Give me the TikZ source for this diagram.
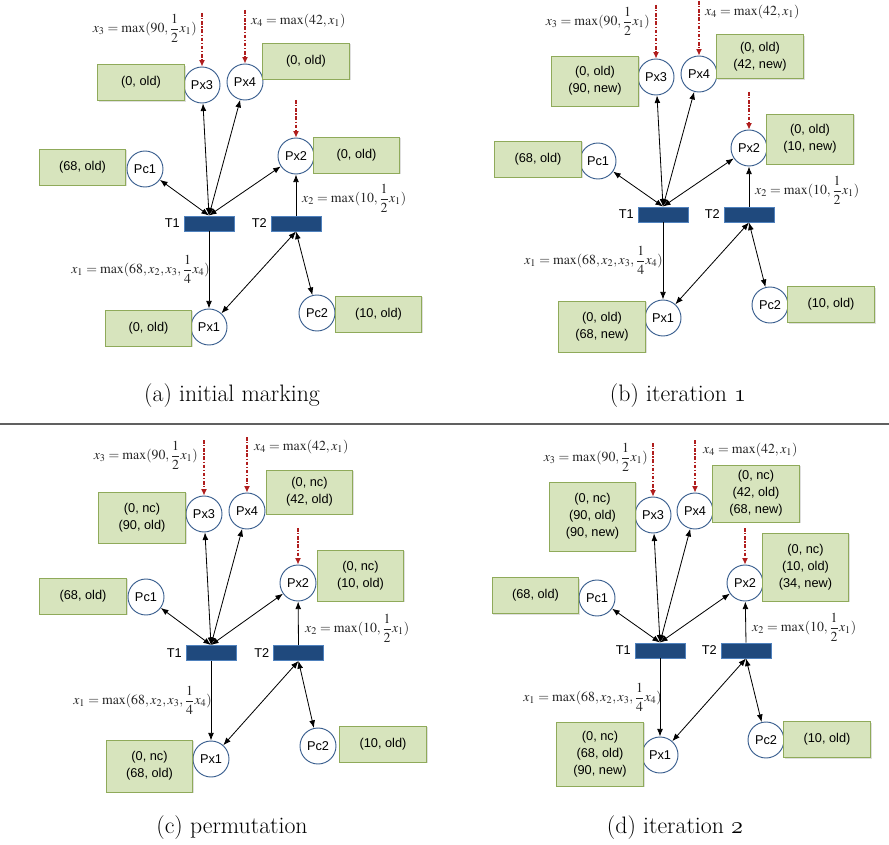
\documentclass[tikz,border=0pt]{standalone}
\usepackage{amsmath}
\usepackage{mathptmx}
\usepackage{fontspec}
\newfontfamily\labfont{Liberation Sans}
\usetikzlibrary{arrows.meta,shadows}
\definecolor{boxfill}{HTML}{D7E4BD}
\definecolor{boxline}{HTML}{8FAA5A}
\definecolor{placeline}{HTML}{3A5F8F}
\definecolor{transfill}{HTML}{1F497D}
\definecolor{transline}{HTML}{4F81BD}
\definecolor{redarc}{HTML}{B01E1E}
\definecolor{sepline}{HTML}{606060}
\tikzset{
  place/.style={circle, draw=placeline, fill=white, line width=0.8pt, minimum size=1.08cm, inner sep=0pt, font=\labfont\fontsize{10.9}{13}\selectfont},
  tokbox/.style={rectangle, draw=boxline, fill=boxfill, line width=0.8pt, minimum width=2.6cm, minimum height=#1*0.03cm, inner sep=0pt, align=center, font=\labfont\fontsize{10.9}{14.5}\selectfont, drop shadow={shadow xshift=1pt, shadow yshift=-1pt, opacity=0.25}},
  tokbox/.default=36,
  trans/.style={rectangle, draw=transline, fill=transfill, line width=0.8pt, minimum width=1.5cm, minimum height=0.45cm, inner sep=0pt},
  tlabel/.style={font=\labfont\fontsize{10.9}{13}\selectfont, inner sep=0pt, anchor=east},
  eqlabel/.style={font=\fontsize{11.8}{14}\selectfont, inner sep=0pt, text=black!85},
  arc/.style={line width=0.7pt, >={Latex[length=6.5pt,width=5pt]}},
  trigarc/.style={draw=redarc, line width=0.9pt, dash pattern=on 3pt off 1.5pt on 1pt off 1.5pt, -{Latex[length=5.5pt,width=5pt]}},
  captext/.style={font=\fontfamily{lmr}\fontsize{20.3}{24}\selectfont, inner sep=0pt, anchor=base}
}
\newcommand\petriarcs[1]{%
  \draw[arc,<->] (#1T1.north) -- (#1Pc1);
  \draw[arc,<->] (#1T1.north) -- (#1Px3);
  \draw[arc,<->] (#1T1.north) -- (#1Px4);
  \draw[arc,<->] (#1T1.north) -- (#1Px2);
  \draw[arc,->] (#1T1.south) -- (#1Px1);
  \draw[arc,->] (#1T2.north) -- (#1Px2);
  \draw[arc,<->] (#1T2.south) -- (#1Px1);
  \draw[arc,<->] (#1T2.south) -- (#1Pc2);
  \draw[trigarc] (#1R3) -- (#1Px3);
  \draw[trigarc] (#1R4) -- (#1Px4);
  \draw[trigarc] (#1R2) -- (#1Px2);
  \node[tlabel] (#1T1l) at ([xshift=-3pt]#1T1.west) {T1};
  \node[tlabel] (#1T2l) at ([xshift=-3pt]#1T2.west) {T2};
}
\newcommand\oldnum[1]{{\usefont{OML}{cmm}{m}{it}\fontsize{20.3}{24}\selectfont #1}}
\begin{document}
\begin{tikzpicture}[x=0.03cm,y=-0.03cm]
\fill[white] (0,0) rectangle (889,845);
\useasboundingbox (0,0) rectangle (889,845);
% separator
\coordinate (sepL) at (0,424);
\coordinate (sepR) at (889,424);
\draw[sepline, line width=1.2pt] (sepL) -- (sepR);

% ---------------- panel a
\node[place] (aPx3) at (202,85) {Px3};
\node[place] (aPx4) at (245,82) {Px4};
\node[place] (aPx2) at (296,156) {Px2};
\node[place] (aPc1) at (145,169) {Pc1};
\node[place] (aPx1) at (209,327) {Px1};
\node[place] (aPc2) at (317,313) {Pc2};
\node[trans] (aT1) at (209,223.5) {};
\node[trans] (aT2) at (296,223.5) {};
\node[tokbox] (aB3) at (141,82.5) {(0, old)};
\node[tokbox] (aB4) at (306,61) {(0, old)};
\node[tokbox] (aB2) at (356.5,155) {(0, old)};
\node[tokbox] (aBc1) at (82.5,167) {(68, old)};
\node[tokbox] (aB1) at (148.5,328) {(0, old)};
\node[tokbox] (aBc2) at (378.5,314) {(10, old)};
\node[eqlabel, anchor=east] (aE3) at (197,28) {$x_3=\max(90,\dfrac{1}{2}x_1)$};
\node[eqlabel, anchor=west] (aE4) at (251,21) {$x_4=\max(42,x_1)$};
\node[eqlabel, anchor=east] (aE1) at (210,269) {$x_1=\max(68,x_2,x_3,\dfrac{1}{4}x_4)$};
\node[eqlabel, anchor=west] (aE2) at (302,198) {$x_2=\max(10,\dfrac{1}{2}x_1)$};
\coordinate (aR3) at (202,13);
\coordinate (aR4) at (245,10);
\coordinate (aR2) at (296,100);
\petriarcs{a}
\node[captext] (capa) at (232,401) {(a) initial marking};

% ---------------- panel b
\node[place] (bPx3) at (656,77) {Px3};
\node[place] (bPx4) at (699,74) {Px4};
\node[place] (bPx2) at (749,148) {Px2};
\node[place] (bPc1) at (598,161) {Pc1};
\node[place] (bPx1) at (663,318) {Px1};
\node[place] (bPc2) at (770,305) {Pc2};
\node[trans] (bT1) at (663,214.5) {};
\node[trans] (bT2) at (749,214.5) {};
\node[tokbox=50] (bB3) at (595,81) {(0, old)\\(90, new)};
\node[tokbox=44] (bB4) at (760,56.5) {(0, old)\\(42, new)};
\node[tokbox=50] (bB2) at (810,139) {(0, old)\\(10, new)};
\node[tokbox] (bBc1) at (538,159) {(68, old)};
\node[tokbox=51] (bB1) at (602,326.5) {(0, old)\\(68, new)};
\node[tokbox] (bBc2) at (831,304.5) {(10, old)};
\node[eqlabel, anchor=east] (bE3) at (650,21) {$x_3=\max(90,\dfrac{1}{2}x_1)$};
\node[eqlabel, anchor=west] (bE4) at (705,12) {$x_4=\max(42,x_1)$};
\node[eqlabel, anchor=east] (bE1) at (663,260) {$x_1=\max(68,x_2,x_3,\dfrac{1}{4}x_4)$};
\node[eqlabel, anchor=west] (bE2) at (755,190) {$x_2=\max(10,\dfrac{1}{2}x_1)$};
\coordinate (bR3) at (656,5);
\coordinate (bR4) at (699,1);
\coordinate (bR2) at (749,92);
\petriarcs{b}
\node[captext] (capb) at (678,401) {(b) iteration \oldnum{1}};

% ---------------- panel c
\node[place] (cPx3) at (204,514) {Px3};
\node[place] (cPx4) at (247,511) {Px4};
\node[place] (cPx2) at (298,583) {Px2};
\node[place] (cPc1) at (146,597) {Pc1};
\node[place] (cPx1) at (211,759) {Px1};
\node[place] (cPc2) at (318,746) {Pc2};
\node[trans] (cT1) at (211,653) {};
\node[trans] (cT2) at (298.5,653) {};
\node[tokbox=51] (cB3) at (142,517.5) {(0, nc)\\(90, old)};
\node[tokbox=44] (cB4) at (309.5,492) {(0, nc)\\(42, old)};
\node[tokbox=51] (cB2) at (360.5,575.5) {(0, nc)\\(10, old)};
\node[tokbox] (cBc1) at (83,596) {(68, old)};
\node[tokbox=52] (cB1) at (149.5,766) {(0, nc)\\(68, old)};
\node[tokbox] (cBc2) at (383,744) {(10, old)};
\node[eqlabel, anchor=east] (cE3) at (198,455) {$x_3=\max(90,\dfrac{1}{2}x_1)$};
\node[eqlabel, anchor=west] (cE4) at (254,447) {$x_4=\max(42,x_1)$};
\node[eqlabel, anchor=east] (cE1) at (212,700) {$x_1=\max(68,x_2,x_3,\dfrac{1}{4}x_4)$};
\node[eqlabel, anchor=west] (cE2) at (305,628) {$x_2=\max(10,\dfrac{1}{2}x_1)$};
\coordinate (cR3) at (204,440);
\coordinate (cR4) at (247,437);
\coordinate (cR2) at (298,528);
\petriarcs{c}
\node[captext] (capc) at (232,833) {(c) permutation};

% ---------------- panel d
\node[place] (dPx3) at (653,515) {Px3};
\node[place] (dPx4) at (695,511) {Px4};
\node[place] (dPx2) at (745,583) {Px2};
\node[place] (dPc1) at (597,598) {Pc1};
\node[place] (dPx1) at (660,755) {Px1};
\node[place] (dPc2) at (766,740) {Pc2};
\node[trans] (dT1) at (660,650.5) {};
\node[trans] (dT2) at (746,650.5) {};
\node[tokbox=69] (dB3) at (592.5,516.5) {(0, nc)\\(90, old)\\(90, new)};
\node[tokbox=57] (dB4) at (756,493.5) {(0, nc)\\(42, old)\\(68, new)};
\node[tokbox=68] (dB2) at (805.5,567) {(0, nc)\\(10, old)\\(34, new)};
\node[tokbox] (dBc1) at (535.5,595.5) {(68, old)};
\node[tokbox=64] (dB1) at (600,754) {(0, nc)\\(68, old)\\(90, new)};
\node[tokbox] (dBc2) at (827,739.5) {(10, old)};
\node[eqlabel, anchor=east] (dE3) at (648,457) {$x_3=\max(90,\dfrac{1}{2}x_1)$};
\node[eqlabel, anchor=west] (dE4) at (703,450) {$x_4=\max(42,x_1)$};
\node[eqlabel, anchor=east] (dE1) at (662,697) {$x_1=\max(68,x_2,x_3,\dfrac{1}{4}x_4)$};
\node[eqlabel, anchor=west] (dE2) at (752,627) {$x_2=\max(10,\dfrac{1}{2}x_1)$};
\coordinate (dR3) at (653,443);
\coordinate (dR4) at (695,440);
\coordinate (dR2) at (745,528);
\petriarcs{d}
\node[captext] (capd) at (675,833) {(d) iteration \oldnum{2}};
\end{tikzpicture}
\end{document}
